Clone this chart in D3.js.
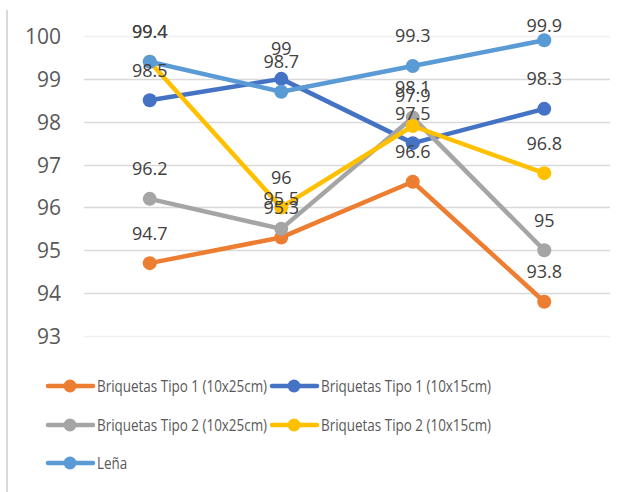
<!DOCTYPE html>
<html>
<head>
<meta charset="utf-8">
<script src="https://cdn.jsdelivr.net/npm/d3@7"></script>
<style>
  html, body { margin: 0; padding: 0; background: #ffffff; }
  svg { display: block; font-family: "Open Sans", sans-serif; }
</style>
</head>
<body>
<svg id="chart" width="634" height="492"></svg>
<script>
const categories = ["1", "2", "3", "4"];
const seriesNames = [
  "Briquetas Tipo 1 (10x25cm)",
  "Briquetas Tipo 1 (10x15cm)",
  "Briquetas Tipo 2 (10x25cm)",
  "Briquetas Tipo 2 (10x15cm)",
  "Leña"
];
const tipo1_25 = [94.7, 95.3, 96.6, 93.8];
const tipo1_15 = [98.5, 99, 97.5, 98.3];
const tipo2_25 = [96.2, 95.5, 98.1, 95];
const tipo2_15 = [99.4, 96, 97.9, 96.8];
const lena     = [99.4, 98.7, 99.3, 99.9];
const yTicks = [93, 94, 95, 96, 97, 98, 99, 100];
const colors = ["#ED7D31", "#4472C4", "#A5A5A5", "#FFC000", "#5B9BD5"];

const seriesValues = [tipo1_25, tipo1_15, tipo2_25, tipo2_15, lena];
const series = seriesNames.map((n, i) => ({ name: n, values: seriesValues[i], color: colors[i] }));

const svg = d3.select("#chart");
const plotLeft = 84, plotRight = 610, plotTop = 36, plotBottom = 336;

const x = d3.scalePoint().domain(categories).range([plotLeft, plotRight]).padding(0.5);
const y = d3.scaleLinear().domain([93, 100]).range([plotBottom, plotTop]);

// chart border (left edge visible)
svg.append("line").attr("x1", 7).attr("x2", 7).attr("y1", 10).attr("y2", 492)
  .attr("stroke", "#d9d9d9").attr("stroke-width", 2);

// gridlines
svg.append("g").selectAll("line").data(yTicks).join("line")
  .attr("x1", plotLeft).attr("x2", plotRight)
  .attr("y1", d => Math.round(y(d)) + 0.5).attr("y2", d => Math.round(y(d)) + 0.5)
  .attr("stroke", d => (d === 100 || d === 93) ? "#f0f0f0" : "#d9d9d9")
  .attr("stroke-width", 1.5);

// y axis labels
const yAxis = d3.axisLeft(y).tickValues(yTicks).tickSize(0).tickPadding(0).tickFormat(d3.format("d"));
const yg = svg.append("g").attr("transform", "translate(61,0)").call(yAxis);
yg.select(".domain").remove();
yg.selectAll("text").attr("font-size", 21).attr("fill", "#595959")
  .attr("font-family", "'Open Sans', sans-serif").attr("dy", "0.36em");

// lines
const line = d3.line().x((d, i) => x(categories[i])).y(d => y(d));
series.forEach(s => {
  const g = svg.append("g");
  g.append("path").datum(s.values).attr("d", line)
    .attr("fill", "none").attr("stroke", s.color).attr("stroke-width", 4.5)
    .attr("stroke-linejoin", "round").attr("stroke-linecap", "round");
  g.selectAll("circle").data(s.values).join("circle")
    .attr("cx", (d, i) => x(categories[i])).attr("cy", d => y(d)).attr("r", 7)
    .attr("fill", s.color);
});

// data labels
series.forEach(s => {
  svg.append("g").selectAll("text").data(s.values).join("text")
    .attr("x", (d, i) => x(categories[i]))
    .attr("y", d => Math.max(26, y(d) - 30))
    .attr("dy", "0.36em")
    .attr("text-anchor", "middle")
    .attr("font-size", 18).attr("fill", "#404040")
    .text(d => d3.format("")(d));
});

// legend
const legendPos = [
  { lx: 48, ly: 386 }, { lx: 272, ly: 386 },
  { lx: 48, ly: 425 }, { lx: 272, ly: 425 },
  { lx: 48, ly: 463 }
];
series.forEach((s, i) => {
  const p = legendPos[i];
  const g = svg.append("g").attr("transform", `translate(${p.lx},${p.ly})`);
  g.append("line").attr("x1", 0).attr("x2", 45).attr("y1", 0).attr("y2", 0)
    .attr("stroke", s.color).attr("stroke-width", 4.5).attr("stroke-linecap", "round");
  g.append("circle").attr("cx", 22).attr("cy", 0).attr("r", 6.5).attr("fill", s.color);
  const t = g.append("text").attr("x", 49).attr("y", 0).attr("dy", "0.36em")
    .attr("font-size", 17).attr("fill", "#595959").text(s.name);
  const w = t.node().getComputedTextLength();
  t.attr("textLength", w * 0.84 * 16 / 17).attr("lengthAdjust", "spacingAndGlyphs");
});
</script>
</body>
</html>
